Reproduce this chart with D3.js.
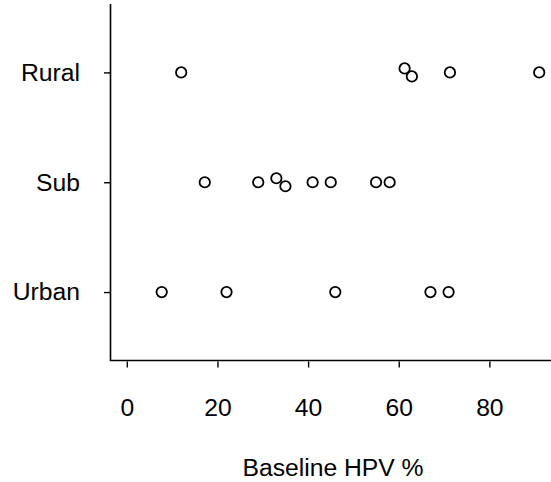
<!DOCTYPE html>
<html>
<head>
<meta charset="utf-8">
<script src="https://cdn.jsdelivr.net/npm/d3@7"></script>
<style>
  html, body { margin: 0; padding: 0; background: #fff; }
  svg { display: block; }
  text { font-family: "Liberation Sans", Arial, sans-serif; fill: #000; }
</style>
</head>
<body>
<div id="chart"></div>
<script>
// Baseline HPV prevalence by area type
const categories = ["Urban", "Sub", "Rural"];
const urbanValues = [7.7, 22, 46, 67, 71];
const subValues = [17.2, 29, 33, 35, 41, 45, 55, 58];
const ruralValues = [12, 61.3, 62.9, 71.3, 91];
const xTicks = [0, 20, 40, 60, 80];
const xTitle = "Baseline HPV %";

const seriesByCategory = { Urban: urbanValues, Sub: subValues, Rural: ruralValues };

const W = 551, H = 482;
const fontSize = 24.7;
const left = 110.5, bottom = 360.5;

const svg = d3.select("#chart").append("svg")
  .attr("width", W).attr("height", H);

const x = d3.scaleLinear().domain([-3.6, 93.6]).range([left, W]);
const y = d3.scalePoint().domain(categories).range([bottom, 4]).padding(0.623);

// x axis: tick marks sit just under the axis line
const xAxis = svg.append("g")
  .attr("transform", `translate(0,${bottom + 1})`)
  .call(d3.axisBottom(x).tickValues(xTicks).tickFormat(d3.format("d"))
    .tickSize(6).tickSizeOuter(0).tickPadding(30.5));
xAxis.select(".domain").remove();
xAxis.selectAll(".tick line").attr("stroke", "#000").attr("stroke-width", 1.4);
xAxis.selectAll(".tick text").attr("font-size", fontSize).attr("font-family", null);

// y axis with category labels
const yAxis = svg.append("g")
  .attr("transform", `translate(${left},0)`)
  .call(d3.axisLeft(y).tickSize(6.5).tickSizeOuter(0).tickPadding(24));
yAxis.select(".domain").remove();
yAxis.selectAll(".tick line").attr("stroke", "#000").attr("stroke-width", 1.4);
yAxis.selectAll(".tick text").attr("font-size", fontSize).attr("font-family", null);

// L-shaped frame
svg.append("path")
  .attr("d", `M${left},4V${bottom}H${W}`)
  .attr("fill", "none").attr("stroke", "#000").attr("stroke-width", 1.6);

// points; near-coincident neighbours are nudged apart vertically
const r = 5.2;
const points = [];
categories.forEach(cat => {
  const vals = seriesByCategory[cat].slice().sort((a, b) => a - b);
  const nudge = vals.map(() => 0);
  for (let i = 1; i < vals.length; i++) {
    if (x(vals[i]) - x(vals[i - 1]) < 2 * r + 2 && nudge[i - 1] === 0) {
      nudge[i - 1] = -4;
      nudge[i] = 4;
    }
  }
  vals.forEach((v, i) => points.push({ cat, v, dy: nudge[i] }));
});

svg.append("g").selectAll("circle")
  .data(points)
  .join("circle")
  .attr("cx", d => x(d.v))
  .attr("cy", d => y(d.cat) + d.dy)
  .attr("r", r)
  .attr("fill", "#fff")
  .attr("stroke", "#000")
  .attr("stroke-width", 1.8);

// axis title
svg.append("text")
  .attr("x", (x(0) + x(91)) / 2)
  .attr("y", 476)
  .attr("text-anchor", "middle")
  .attr("font-size", fontSize)
  .text(xTitle);
</script>
</body>
</html>
